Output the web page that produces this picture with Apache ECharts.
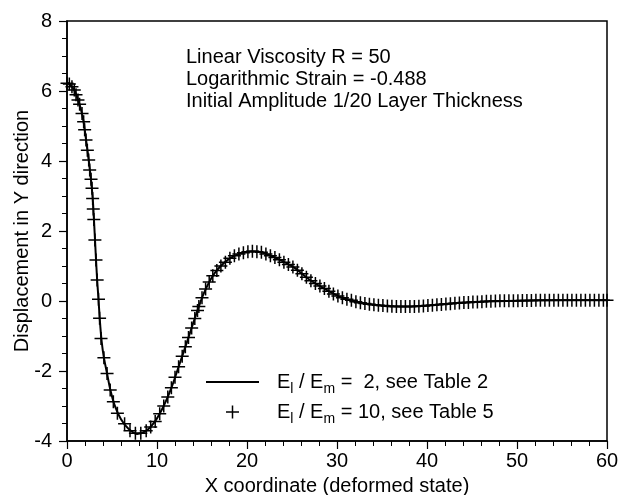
<!DOCTYPE html>
<html><head><meta charset="utf-8">
<script src="https://cdn.jsdelivr.net/npm/echarts@6/dist/echarts.min.js"></script>
<style>html,body{margin:0;padding:0;background:#fff}#c{width:633px;height:495px}</style>
</head><body><div id="c"></div>
<script>
const FONT = '"Liberation Sans", Arial, Helvetica, sans-serif';

// Solid curve: E_l/E_m = 2 (Table 2)
const lineX = [0, 0.5, 0.9, 1.2, 1.5, 1.8, 2.1, 2.4, 2.65, 2.85, 3.0, 3.2, 3.35, 3.5, 3.65, 3.85, 4.1, 4.45, 4.8, 5.3, 6.0, 6.8, 7.8, 8.8, 9.7, 10.7, 11.6, 12.4, 13.15, 13.9, 14.5, 15.2, 16.1, 17.0, 18.1, 19.3, 20.5, 21.5, 23.3, 25.2, 27.0, 28.9, 30.7, 32.6, 34.4, 36.3, 38.0, 40.0, 42.2, 45.9, 50, 55, 60];
const lineY = [6.25, 6.14, 5.98, 5.76, 5.52, 5.18, 4.64, 4.05, 3.5, 2.95, 2.3, 1.3, 0.6, 0.05, -0.55, -1.15, -1.62, -2.07, -2.52, -2.98, -3.38, -3.64, -3.8, -3.71, -3.47, -3.02, -2.48, -1.88, -1.31, -0.73, -0.27, 0.22, 0.68, 0.98, 1.22, 1.36, 1.42, 1.40, 1.22, 0.96, 0.6, 0.31, 0.08, -0.05, -0.12, -0.16, -0.16, -0.13, -0.08, -0.02, 0.01, 0.02, 0.02];

// "+" markers: E_l/E_m = 10 (Table 5)
const markX = [0, 0.26, 0.55, 0.81, 1.0, 1.22, 1.4, 1.67, 1.85, 1.96, 2.11, 2.26, 2.41, 2.52, 2.67, 2.78, 2.85,
  2.92, 2.98, 3.1, 3.22, 3.35, 3.5, 3.62,
  3.78, 4.1, 4.45, 4.8, 5.15, 5.6, 6.4, 7.0, 7.6, 8.2, 8.8,
  9.3, 9.8, 10.3, 10.75, 11.2, 11.6, 12.0, 12.4, 12.8, 13.15, 13.5, 13.85, 14.2, 14.5,
  14.65, 15.0, 15.4, 15.8, 16.2, 16.65, 17.1, 17.6, 18.1, 18.6, 19.1, 19.6, 20.1, 20.6, 21.1, 21.6,
  22.1, 22.6, 23.1, 23.6, 24.1, 24.6, 25.1, 25.6, 26.1, 26.6, 27.1, 27.6, 28.1, 28.6, 29.1, 29.6, 30.1, 30.6, 31.1, 31.6,
  32.1, 32.6, 33.1, 33.6, 34.1, 34.6, 35.1, 35.6, 36.1, 36.6, 37.1, 37.6, 38.1, 38.6, 39.1, 39.6, 40.1, 40.6, 41.1, 41.6,
  42.1, 42.6, 43.1, 43.6, 44.1, 44.6, 45.1, 45.6, 46.1, 46.6, 47.1, 47.6, 48.1, 48.6, 49.1, 49.6, 50.1, 50.6, 51.1, 51.6,
  52.1, 52.6, 53.1, 53.6, 54.1, 54.6, 55.1, 55.6, 56.1, 56.6, 57.1, 57.6, 58.1, 58.6, 59.1, 59.6, 60];
const markY = [6.22, 6.2, 6.12, 6.03, 5.89, 5.74, 5.62, 5.36, 5.12, 4.89, 4.6, 4.31, 4.03, 3.74, 3.48, 3.22, 2.93,
  2.63, 2.33, 1.74, 1.17, 0.6, 0.05, -0.49,
  -1.07, -1.62, -2.07, -2.54, -2.88, -3.21, -3.51, -3.71, -3.78, -3.78, -3.71,
  -3.6, -3.44, -3.22, -3.0, -2.74, -2.48, -2.18, -1.88, -1.58, -1.31, -1.04, -0.77, -0.5, -0.27,
  -0.16, 0.09, 0.34, 0.54, 0.72, 0.87, 1.0, 1.11, 1.22, 1.29, 1.34, 1.38, 1.41, 1.42, 1.41, 1.39,
  1.34, 1.29, 1.24, 1.18, 1.11, 1.04, 0.97, 0.88, 0.78, 0.68, 0.58, 0.5, 0.43, 0.36, 0.28, 0.2, 0.14, 0.09, 0.05, 0.02,
  -0.02, -0.05, -0.07, -0.09, -0.11, -0.12, -0.13, -0.14, -0.15, -0.16, -0.16, -0.16, -0.16, -0.155, -0.15, -0.14, -0.13, -0.12, -0.11, -0.1,
  -0.085, -0.075, -0.065, -0.055, -0.045, -0.04, -0.03, -0.025, -0.02, -0.01, -0.005, 0, 0.005, 0.01, 0.01, 0.01, 0.01, 0.015, 0.015, 0.015,
  0.02, 0.02, 0.02, 0.02, 0.02, 0.02, 0.02, 0.02, 0.02, 0.02, 0.02, 0.02, 0.02, 0.02, 0.02, 0.02, 0.02];

const annotations = ['Linear Viscosity R = 50', 'Logarithmic Strain = -0.488', 'Initial Amplitude 1/20 Layer Thickness'];
const xTitle = 'X coordinate (deformed state)';
const yTitle = 'Displacement in Y direction';

const PLUS = 'path://M6,0L6,12M0,6L12,6';
const chart = echarts.init(document.getElementById('c'), null, {renderer: 'canvas'});
const axisCommon = {
  type: 'value',
  axisLine: {show: true, onZero: false, lineStyle: {color: '#000', width: 1.5}},
  axisTick: {show: true, inside: false, length: 8, lineStyle: {color: '#000', width: 1.2}},
  minorTick: {show: true, length: 5, lineStyle: {color: '#000', width: 1}},
  splitLine: {show: false},
  axisLabel: {color: '#000', fontSize: 20, fontFamily: FONT, showMinLabel: true, showMaxLabel: true},
  nameLocation: 'middle',
  nameMoveOverlap: false,
  nameTextStyle: {color: '#000', fontSize: 20, fontFamily: FONT}
};
chart.setOption({
  animation: false,
  backgroundColor: '#fff',
  grid: {left: 67, right: 26, top: 21, bottom: 54, containLabel: false, outerBoundsMode: 'none',
    show: true, borderColor: '#000', borderWidth: 1.5},
  xAxis: Object.assign({}, axisCommon, {
    min: 0, max: 60, interval: 10,
    minorTick: Object.assign({}, axisCommon.minorTick, {splitNumber: 5}),
    axisLabel: Object.assign({}, axisCommon.axisLabel, {margin: 10}),
    name: xTitle, nameGap: 35
  }),
  yAxis: Object.assign({}, axisCommon, {
    min: -4, max: 8, interval: 2,
    minorTick: Object.assign({}, axisCommon.minorTick, {splitNumber: 4}),
    axisLabel: Object.assign({}, axisCommon.axisLabel, {margin: 15}),
    name: yTitle, nameGap: 35
  }),
  legend: {
    left: 205, top: 372, orient: 'vertical', padding: 0, itemGap: 6,
    itemWidth: 53, itemHeight: 13,
    selectedMode: false,
    data: [
      {name: 'E2', itemStyle: {color: 'rgba(0,0,0,0)', borderColor: 'rgba(0,0,0,0)', borderWidth: 0}},
      {name: 'E10', itemStyle: {color: 'rgba(0,0,0,0)', borderColor: '#000', borderWidth: 1.5}}
    ],
    formatter: function (name) {
      if (name === 'E2') return '{f|E}{s|l}{n| / E}{s|m}{n| =  2, see Table 2}';
      return '{f|E}{s|l}{n| / E}{s|m}{n| = 10, see Table 5}';
    },
    textStyle: {
      rich: {
        f: {fontSize: 20, fontFamily: FONT, color: '#000', lineHeight: 28, padding: [0, 0, 0, 13]},
        n: {fontSize: 20, fontFamily: FONT, color: '#000', lineHeight: 28},
        s: {fontSize: 14, fontFamily: FONT, color: '#000', lineHeight: 14, verticalAlign: 'bottom'}
      }
    }
  },
  graphic: annotations.map((t, i) => ({
    type: 'text', left: 186, top: 47 + i * 22,
    style: {text: t, fill: '#000', font: '20px ' + FONT}
  })),
  series: [
    {
      name: 'E2', type: 'line',
      data: lineX.map((x, i) => [x, lineY[i]]),
      symbol: 'none', showSymbol: false, smooth: 0.3,
      lineStyle: {color: '#000', width: 2}, itemStyle: {color: '#000'}, z: 3
    },
    {
      name: 'E10', type: 'scatter',
      data: markX.map((x, i) => [x, markY[i]]),
      symbol: PLUS, symbolSize: 13, symbolKeepAspect: true,
      itemStyle: {color: 'rgba(0,0,0,0)', borderColor: '#000', borderWidth: 1.5, opacity: 1},
      clip: false, z: 4
    }
  ]
});
</script></body></html>
